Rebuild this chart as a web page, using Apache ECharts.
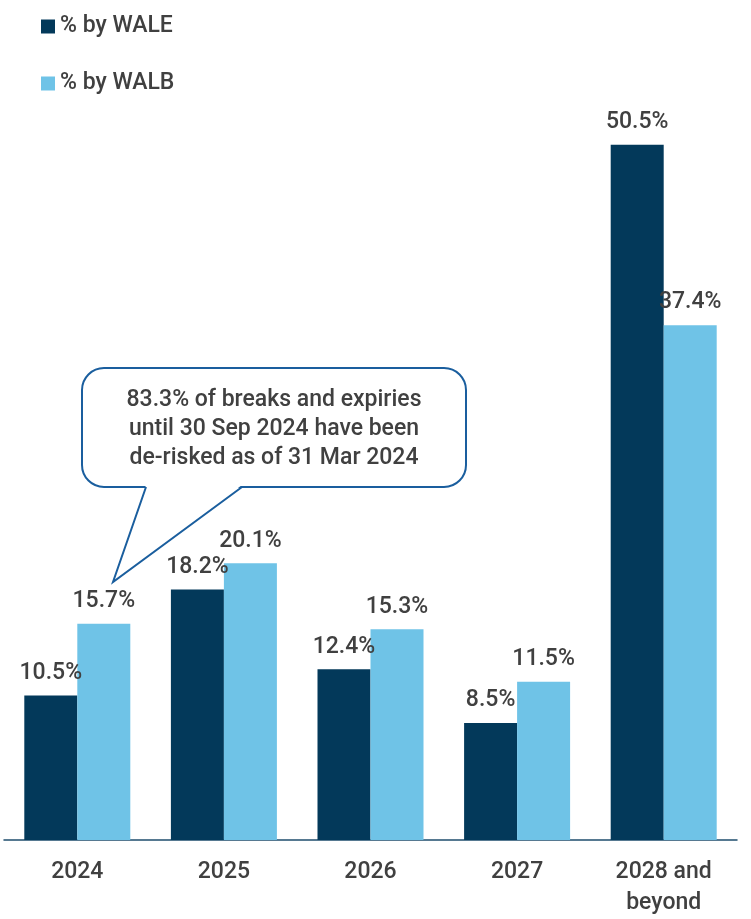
<!DOCTYPE html>
<html>
<head>
<meta charset="utf-8">
<script src="https://cdn.jsdelivr.net/npm/echarts@6/dist/echarts.min.js"></script>
<style>html,body{margin:0;padding:0;background:#fff;overflow:hidden}#c{width:751px;height:919px}</style>
</head>
<body>
<div id="c"></div>
<script>
const categories = ['2024', '2025', '2026', '2027', '2028 and\nbeyond'];
const waleValues = [10.5, 18.2, 12.4, 8.5, 50.5];
const walbValues = [15.7, 20.1, 15.3, 11.5, 37.4];
const seriesNames = ['% by WALE', '% by WALB'];
const calloutText = '83.3% of breaks and expiries\nuntil 30 Sep 2024 have been\nde-risked as of 31 Mar 2024';

const FONT = 'Roboto';
const TXT = '#404040';
const STROKE = '#1a5e9e';
const chart = echarts.init(document.getElementById('c'), null, {renderer: 'canvas', width: 751, height: 919});

const labelCfg = {
  show: true, position: 'top', distance: 11,
  formatter: p => p.value.toFixed(1) + '%',
  fontFamily: FONT, fontSize: 23, fontWeight: 500, color: TXT
};

const x0 = 82, x1 = 466, y0 = 368, y1 = 487, r = 22;

chart.setOption({
  animation: false,
  backgroundColor: '#ffffff',
  legend: {
    orient: 'vertical', left: 41, top: 15, padding: 0,
    itemWidth: 14, itemHeight: 14, itemGap: 34,
    icon: 'rect',
    textStyle: {fontFamily: FONT, fontSize: 23, fontWeight: 500, color: TXT},
    data: seriesNames
  },
  grid: {left: 4, width: 733, top: 14, height: 830, containLabel: false},
  xAxis: {
    type: 'category', data: categories,
    axisLine: {show: true, lineStyle: {color: '#1f4e6e', width: 1.5}},
    axisTick: {show: false},
    axisLabel: {fontFamily: FONT, fontSize: 23, fontWeight: 500, color: TXT, margin: 17, lineHeight: 31, interval: 0}
  },
  yAxis: {
    type: 'value', min: 0, max: 60,
    show: false, splitLine: {show: false}
  },
  labelLayout: {hideOverlap: false, moveOverlap: false},
  series: [
    {name: seriesNames[0], type: 'bar', data: waleValues, barWidth: 53, barGap: '0%',
     itemStyle: {color: '#03395a'}, label: labelCfg, labelLayout: {hideOverlap: false}},
    {name: seriesNames[1], type: 'bar', data: walbValues, barWidth: 53, barGap: '0%',
     itemStyle: {color: '#6fc3e7'}, label: labelCfg, labelLayout: {hideOverlap: false}}
  ],
  graphic: [
    {type: 'rect', z: 100, shape: {x: x0, y: y0, width: x1 - x0, height: y1 - y0, r: r},
     style: {fill: '#ffffff', stroke: STROKE, lineWidth: 2}},
    {type: 'polygon', z: 101, shape: {points: [[146, y1 - 2], [242, y1 - 2], [113, 582]]},
     style: {fill: '#ffffff', stroke: null}},
    {type: 'polyline', z: 102, shape: {points: [[146, y1], [113, 582], [242, y1]]},
     style: {fill: null, stroke: STROKE, lineWidth: 2}},
    {type: 'text', z: 103, x: 274, y: 386,
     style: {text: calloutText, textAlign: 'center', textVerticalAlign: 'top',
             fontFamily: FONT, fontSize: 23, fontWeight: 500, fill: TXT, lineHeight: 29}}
  ]
});
</script>
</body>
</html>
